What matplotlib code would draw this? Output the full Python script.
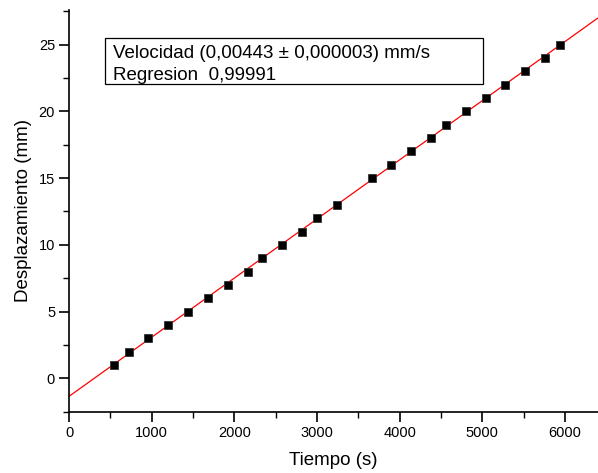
import numpy as np
import matplotlib
matplotlib.use('Agg')
import matplotlib.pyplot as plt
from matplotlib.ticker import MultipleLocator
from matplotlib.patches import Rectangle

plt.rcParams['font.family'] = ['Liberation Sans', 'DejaVu Sans']

# datos
tiempo = [540, 720, 960, 1200, 1440, 1680, 1920, 2160, 2340, 2580, 2820, 3000,
          3240, 3660, 3900, 4140, 4380, 4560, 4800, 5040, 5280, 5520, 5760, 5940]
desplazamiento = [1, 2, 3, 4, 5, 6, 7, 8, 9, 10, 11, 12,
                  13, 15, 16, 17, 18, 19, 20, 21, 22, 23, 24, 25]

pendiente = 0.00443
ordenada = -1.35

fig = plt.figure(figsize=(5.98, 4.73), dpi=100)
ax = fig.add_axes([0.1154, 0.1296, 0.8846, 0.8494])

x_fit = np.array([0, 6400])
ax.plot(x_fit, pendiente * x_fit + ordenada, color='red', lw=0.9, zorder=2)
ax.plot(tiempo, desplazamiento, 's', color='black', markersize=5.8,
        markeredgecolor='#333333', markeredgewidth=0.6, zorder=3)

ax.set_xlim(0, 6400)
ax.set_ylim(-2.5, 27.6)
ax.xaxis.set_major_locator(MultipleLocator(1000))
ax.xaxis.set_minor_locator(MultipleLocator(500))
ax.yaxis.set_major_locator(MultipleLocator(5))
ax.yaxis.set_minor_locator(MultipleLocator(2.5))

ax.spines['top'].set_visible(False)
ax.spines['right'].set_visible(False)
ax.spines['left'].set_linewidth(1.2)
ax.spines['bottom'].set_linewidth(1.2)
ax.tick_params(which='major', direction='out', length=7, width=1.2, labelsize=10.5, pad=3)
ax.tick_params(which='minor', direction='out', length=4, width=1.0)

ax.set_xlabel('Tiempo (s)', fontsize=13.5, labelpad=9)
ax.set_ylabel('Desplazamiento (mm)', fontsize=13.5, labelpad=5)

# cuadro de texto
ax.add_patch(Rectangle((0.068, 0.8155), 0.715, 0.1145, transform=ax.transAxes,
                       facecolor='white', edgecolor='black', lw=0.9, zorder=4))
ax.text(0.083, 0.880, 'Velocidad (0,00443 \u00b1 0,000003) mm/s',
        transform=ax.transAxes, fontsize=13.5, va='baseline', ha='left', zorder=5)
ax.text(0.083, 0.8245, 'Regresion  0,99991',
        transform=ax.transAxes, fontsize=13.5, va='baseline', ha='left', zorder=5)

fig.savefig('out.png', dpi=100)
